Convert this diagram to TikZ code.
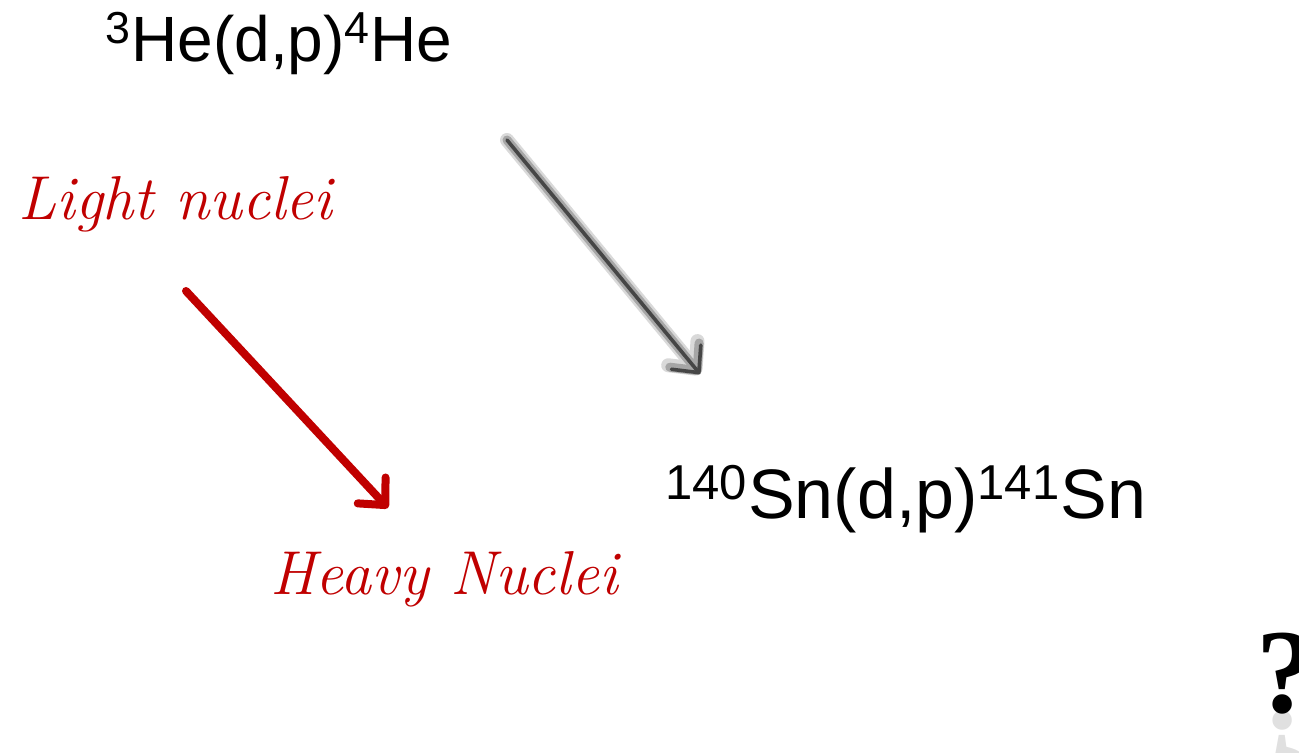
\documentclass[tikz,border=0pt]{standalone}
\usepackage{fontspec}
\setsansfont{Liberation Sans}
\newfontfamily\quizfont{Liberation Serif}
\usetikzlibrary{arrows.meta}
\definecolor{darkred}{RGB}{192,0,0}
\definecolor{arrowgray}{RGB}{70,70,70}

\begin{document}
\begin{tikzpicture}[x=.5pt,y=-.5pt,>=Stealth,
  reaction/.style={font=\sffamily\fontsize{32}{40}\selectfont,inner sep=0pt},
  regime/.style={font=\rmfamily\itshape\fontsize{31}{38}\selectfont,text=darkred,inner sep=0pt},
  barb/.style={-{Straight Barb[length=10pt,width=19pt,round]},line cap=round}]
  \useasboundingbox (0,0) rectangle (1299,753);
  % reactions
  \node[reaction,anchor=base west] (he) at (105,62) {\textsuperscript{3}He(d,p)\textsuperscript{4}He};
  \node[reaction,anchor=base west,font=\sffamily\fontsize{35}{42}\selectfont] (sn) at (665,518)
    {\textsuperscript{140}Sn(d,p)\textsuperscript{141}Sn};
  % regimes
  \node[regime,anchor=base west] (light) at (18,220) {Light nuclei};
  \node[regime,anchor=base west] (heavy) at (270,594) {Heavy Nuclei};
  % arrows
  \coordinate (g1) at (507,140);
  \coordinate (g2) at (700,374);
  \draw[barb,line width=7pt,black!15] (g1) -- (g2);
  \draw[barb,line width=4.5pt,black!35] (g1) -- (g2);
  \draw[barb,line width=1.8pt,arrowgray] (g1) -- (g2);
  \coordinate (r1) at (186,291);
  \coordinate (r2) at (388,508);
  \draw[barb,line width=4pt,darkred] (r1) -- (r2);
  % question mark and its reflection
  \node[anchor=base west,inner sep=0pt,font=\quizfont\bfseries\fontsize{60}{70}\selectfont] (quest) at (1256,712) {?};
  \node[anchor=base west,inner sep=0pt,font=\quizfont\bfseries\fontsize{60}{70}\selectfont,yscale=-1,
    text=black,opacity=.12] (questr) at (1256,712) {?};
\end{tikzpicture}
\end{document}
